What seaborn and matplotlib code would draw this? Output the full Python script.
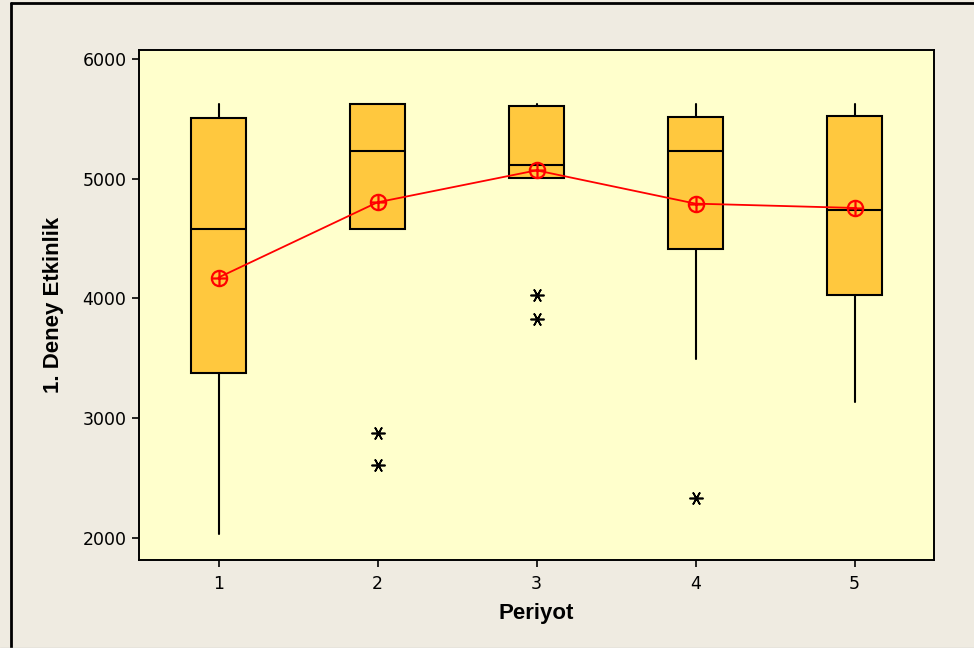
import matplotlib
matplotlib.use("Agg")
import matplotlib.pyplot as plt
from matplotlib.path import Path
from matplotlib.lines import Line2D
import seaborn as sns
import pandas as pd

# Box summary per period (Periyot)
periods = ["1", "2", "3", "4", "5"]
whisker_low = [2033, 4583, 5006, 3497, 3136]
q1 = [3375, 4583, 5006, 4414, 4033]
median = [4583, 5231, 5117, 5231, 4742]
q3 = [5508, 5622, 5611, 5519, 5525]
whisker_high = [5625, 5622, 5622, 5625, 5625]
means = [4175, 4803, 5070, 4792, 4756]
outliers = [[], [2875, 2610], [4030, 3825], [2330], []]

sns.set_theme(style="white")
plt.rcParams["font.family"] = ["DejaVu Sans"]

fig_bg = "#EFEBE1"
panel_bg = "#FFFFCC"
box_fill = "#FFC83E"

fig = plt.figure(figsize=(9.74, 6.48), dpi=100, facecolor=fig_bg)
ax = fig.add_axes([139 / 974, 1 - 560 / 648, (934 - 139) / 974, (560 - 50) / 648])
ax.set_facecolor(panel_bg)

positions = list(range(len(periods)))
stats = []
for i in positions:
    stats.append(dict(
        label=periods[i], whislo=whisker_low[i], q1=q1[i], med=median[i],
        q3=q3[i], whishi=whisker_high[i], fliers=outliers[i],
    ))

ax.bxp(
    stats, positions=positions, widths=0.34, patch_artist=True,
    showcaps=False, showfliers=True,
    boxprops=dict(facecolor=box_fill, edgecolor="black", linewidth=1.5),
    medianprops=dict(color="black", linewidth=1.5),
    whiskerprops=dict(color="black", linewidth=1.5),
    flierprops=dict(marker=(6, 2, 90), markersize=10, markeredgecolor="black",
                    markeredgewidth=1.2, linestyle="none"),
)

# Mean symbol: circle with a cross inside
circle_plus = Path.make_compound_path(
    Path.unit_circle(),
    Path([[-1, 0], [1, 0], [0, -1], [0, 1]],
         [Path.MOVETO, Path.LINETO, Path.MOVETO, Path.LINETO]),
)

mean_df = pd.DataFrame({"pos": positions, "mean": means})
sns.lineplot(
    data=mean_df, x="pos", y="mean", ax=ax, color="red", linewidth=1.3,
    marker=circle_plus, markersize=11, markeredgecolor="red",
    markerfacecolor="none", markeredgewidth=1.6, zorder=5,
)

ax.set_xlim(-0.5, 4.5)
ax.set_ylim(1816, 6075)
ax.set_xticks(positions)
ax.set_xticklabels(periods)
ax.set_yticks([2000, 3000, 4000, 5000, 6000])
ax.set_yticklabels(["2000", "3000", "4000", "5000", "6000"])
ax.tick_params(axis="both", which="major", direction="out", length=5, width=1.2,
               color="black", labelsize=12.5, labelcolor="black", pad=4,
               bottom=True, left=True)
ax.tick_params(axis="x", pad=6)

for side in ["left", "right", "top", "bottom"]:
    ax.spines[side].set_visible(True)
    ax.spines[side].set_color("black")
    ax.spines[side].set_linewidth(1.4)

ax.set_xlabel("Periyot", fontsize=16, fontweight="bold", color="black",
              family=["Liberation Sans"], labelpad=7)
ax.set_ylabel("1. Deney Etkinlik", fontsize=16, fontweight="bold", color="black",
              family=["Liberation Sans"], labelpad=13)

# Window frame on the top and left edges
fig.add_artist(Line2D([11 / 974, 11 / 974], [0, 1 - 3 / 648], color="black",
                      linewidth=2, transform=fig.transFigure))
fig.add_artist(Line2D([11 / 974, 1], [1 - 3 / 648, 1 - 3 / 648], color="black",
                      linewidth=2, transform=fig.transFigure))
fig.add_artist(Line2D([0, 1], [0.5 / 648, 0.5 / 648], color="#C8C8C8",
                      linewidth=1, transform=fig.transFigure))

fig.savefig("out.png", dpi=100, facecolor=fig_bg)
